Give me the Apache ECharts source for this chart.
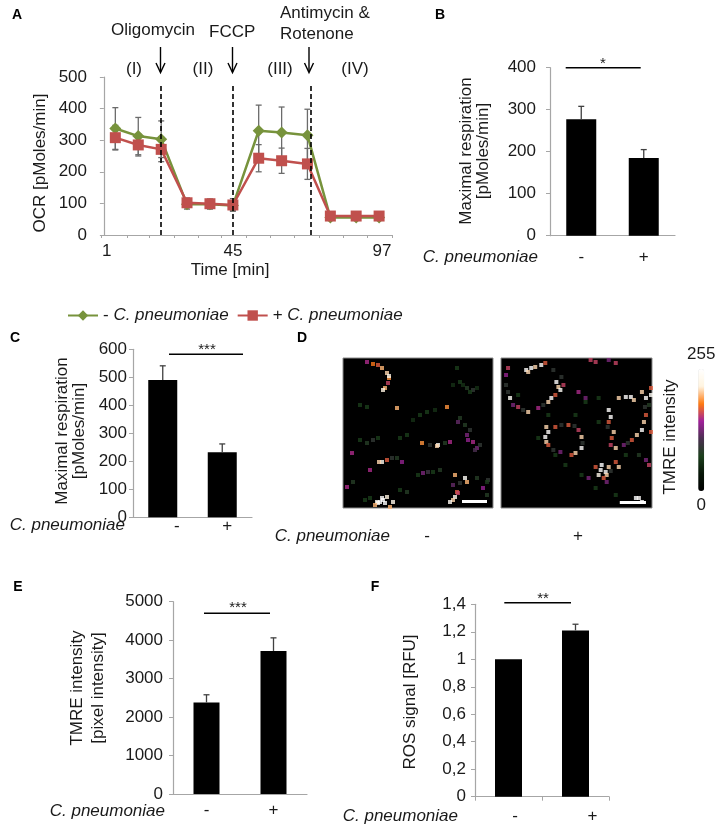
<!DOCTYPE html>
<html><head><meta charset="utf-8">
<script src="https://cdn.jsdelivr.net/npm/echarts@6/dist/echarts.min.js"></script>
<style>html,body{margin:0;padding:0;background:#fff}#c{width:723px;height:829px}</style>
</head><body><div id="c"></div>
<script>
// ---------- DATA ----------
// Panel A: Seahorse OCR time course
const timeMin        = [4, 12, 20, 29, 37, 45, 54, 62, 71, 79, 88, 96];
const ocrControl     = [337, 313, 303, 97, 97, 93, 330, 324, 316, 55, 55, 55];
const ocrControlErr  = [66, 59, 58, 15, 15, 15, 81, 81, 82, 8, 8, 8];
const ocrInfected    = [308, 285, 271, 102, 99, 95, 243, 235, 225, 60, 60, 60];
const ocrInfectedErr = [39, 35, 39, 15, 15, 20, 43, 40, 49, 5, 5, 5];
const injectionTimes = [20, 45, 72];
const timeTickLabels = [1, 45, 97];
const timeMinorTicks = [-1, 8, 16, 24.5, 33, 41, 49.5, 58, 66.5, 75, 83.5, 92, 100.5];
const seriesNames    = ['- C. pneumoniae', '+ C. pneumoniae'];
const phaseLabels    = ['(I)', '(II)', '(III)', '(IV)'];
// Bar panels
const groups      = ['-', '+'];
const maxRespB    = [277, 185];   const maxRespBErr = [31, 20];
const maxRespC    = [490, 232];   const maxRespCErr = [51, 30];
const tmreInt     = [2380, 3720]; const tmreIntErr  = [200, 340];
const rosSignal   = [1.0, 1.21];  const rosSignalErr = [0, 0.045];
const tmreCtrlSpots = [
 [27,7,150],[33,9,180],[42,13,200],[47,18,210],[49,23,190],[48,28,160],[45,33,200],[43,35,220],[38,10,170],[49,21,230],
 [57,53,200],[107,52,190],
 [117,13,70],[120,27,70],[127,33,80],[133,35,90],[120,63,80],[118,67,120],[127,80,130],[133,87,150],[137,93,130],[128,85,140],
 [113,30,60],[123,30,60],[130,37,70],[137,33,60],[125,70,80],[130,75,90],[135,95,110],[140,90,90],
 [98,90,245],[97,91,210],[82,88,190],[110,87,150],[90,90,90],[105,88,80],
 [27,88,80],[33,85,90],[12,98,150],[20,85,70],[38,83,70],
 [42,107,235],[39,107,210],[47,105,170],[62,107,140],[30,115,150],[52,103,90],[57,103,80],
 [40,147,255],[43,145,255],[38,148,250],[45,148,255],[42,143,250],[37,147,240],[53,147,230],[50,152,200],[47,142,220],[35,150,200],
 [83,118,130],[88,117,100],[78,120,70],
 [115,120,200],[125,123,245],[127,127,200],[117,137,170],[115,142,235],[113,145,210],[110,147,240],[118,138,160],[113,130,120],[120,128,90],
 [143,133,140],[7,132,150],[13,127,80],[148,125,90],
 [80,60,70],[87,57,70],[60,83,70],[67,80,70],[20,50,70],[27,52,70],[137,123,80],[147,127,70],[100,115,80],
 [93,117,70],[30,143,70],[25,145,70],[67,137,80],[60,135,70],[95,55,60],[73,65,60],[147,140,80]
];
const tmreInfSpots = [
 [10,13,160],[8,20,140],[28,15,250],[33,13,255],[37,12,210],[43,10,250],[47,8,170],[30,17,210],[58,27,250],
 [60,32,210],[62,35,245],[53,43,250],[50,47,210],[57,40,170],[65,30,160],[12,43,245],[20,52,160],[30,57,210],
 [40,53,150],[15,50,130],[8,30,90],[10,37,90],[25,55,90],[45,50,90],[63,22,90],[55,15,90],
 [92,5,160],[97,7,160],[110,5,130],[117,8,160],[80,37,150],[87,43,130],
 [110,55,250],[112,62,250],[110,67,170],[115,77,210],[113,83,170],[112,90,160],[117,93,210],[125,90,130],
 [133,85,170],[138,80,210],[143,75,250],[145,67,210],[147,60,170],[120,43,210],[127,42,250],[132,42,250],
 [135,45,210],[143,37,210],[147,43,250],[152,33,170],[150,50,80],[152,40,245],[109,72,90],[146,52,90],[129,88,90],
 [48,72,210],[50,77,250],[47,82,250],[48,87,210],[50,90,170],[57,72,170],[70,70,170],[80,75,160],[83,82,210],
 [83,93,250],[77,98,210],[73,100,170],[62,97,130],[63,70,90],[76,71,90],[55,95,90],[84,88,90],
 [103,110,255],[102,115,250],[107,117,250],[108,120,210],[105,123,170],[110,112,210],[117,107,170],[120,112,210],
 [108,127,130],[97,112,170],[90,123,130],[100,120,230],[112,116,90],
 [137,143,255],[140,143,250],[143,147,255],
 [152,77,170],[147,105,130],[150,110,160],
 [20,40,70],[50,60,70],[87,47,70],[100,43,70],[77,60,70],[100,67,70],[140,100,80],[97,133,70],[117,140,70],
 [83,120,70],[67,110,70],[127,100,70],[57,100,70],[40,83,70]
];
const intensityRange = [0, 255];

// ---------- STYLE ----------
const FONT = '"Liberation Sans", Arial, sans-serif';
const FS = 17;
const AXIS_GRAY = '#a6a6a6';
const TXT = '#1a1a1a';
const GREEN = '#77933C', RED = '#C0504D';

function yAx(gridIndex, max, interval, margin, fmt) {
  return {
    type: 'value', gridIndex, min: 0, max, interval,
    axisLine: {show: true, lineStyle: {color: AXIS_GRAY, width: 1.2}},
    axisTick: {show: true, length: 4, lineStyle: {color: AXIS_GRAY}},
    splitLine: {show: false},
    axisLabel: {color: TXT, fontSize: FS, fontFamily: FONT, margin, formatter: fmt || ((v) => String(v))}
  };
}
function xCat(gridIndex, margin, ticks, rich) {
  return {
    type: 'category', gridIndex, data: groups,
    axisLine: {show: true, lineStyle: {color: AXIS_GRAY, width: 1.2}},
    axisTick: {show: ticks, length: 4, lineStyle: {color: AXIS_GRAY}},
    axisLabel: rich ? {
      color: TXT, fontSize: FS, fontFamily: FONT, margin,
      formatter: (v) => (v === '-' ? '{a|-}' : '{b|+}'),
      rich: {
        a: {fontSize: FS, fontFamily: FONT, color: TXT, padding: [0, 0, 0, rich[0]]},
        b: {fontSize: FS, fontFamily: FONT, color: TXT, padding: [0, 0, 0, rich[1]]}
      }
    } : {color: TXT, fontSize: FS, fontFamily: FONT, margin}
  };
}
function errRender(both, color, cap) {
  return function (params, api) {
    const x = api.value(0), v = api.value(1), e = api.value(2);
    if (!e) return null;
    const top = api.coord([x, v + e]);
    const base = api.coord([x, both ? v - e : v]);
    const st = {stroke: color, lineWidth: 1.3};
    const ch = [
      {type: 'line', shape: {x1: top[0], y1: top[1], x2: base[0], y2: base[1]}, style: st},
      {type: 'line', shape: {x1: top[0] - cap, y1: top[1], x2: top[0] + cap, y2: top[1]}, style: st}
    ];
    if (both) ch.push({type: 'line', shape: {x1: base[0] - cap, y1: base[1], x2: base[0] + cap, y2: base[1]}, style: st});
    return {type: 'group', children: ch};
  };
}
function barSeries(xi, vals, errs, width) {
  return [
    {type: 'bar', xAxisIndex: xi, yAxisIndex: xi, data: vals, barWidth: width,
     itemStyle: {color: '#000'}, silent: true, z: 2},
    {type: 'custom', xAxisIndex: xi, yAxisIndex: xi, z: 3, silent: true,
     renderItem: errRender(false, '#404040', 3),
     data: groups.map((g, i) => [i, vals[i], errs[i]])}
  ];
}

const T = (text, x, y, o) => Object.assign({type: 'text', x, y, silent: true,
  style: Object.assign({text, fill: TXT, font: FS + 'px ' + FONT, align: 'center', verticalAlign: 'middle'}, (o && o.style) || {})},
  o ? {rotation: o.rotation || 0} : {});
const L = (x1, y1, x2, y2, w, c) => ({type: 'line', silent: true, shape: {x1, y1, x2, y2}, style: {stroke: c || '#000', lineWidth: w || 1.5}});
const letter = (t, x, y) => ({type: 'text', x, y, silent: true, style: {text: t, fill: '#000', font: 'bold 14px ' + FONT, align: 'center', verticalAlign: 'middle'}});
const italic = (x, y) => T('C. pneumoniae', x, y, {style: {align: 'right', font: 'italic ' + FS + 'px ' + FONT}});
const arrow = (x) => [L(x, 47, x, 72, 1.4), {type: 'polyline', silent: true, shape: {points: [[x - 4.5, 63], [x, 72.5], [x + 4.5, 63]]}, style: {stroke: '#000', lineWidth: 1.4, fill: null}}];
const vert = (t, x, y, lh) => ({type: 'text', x, y, rotation: Math.PI / 2, silent: true,
  style: {text: t, fill: TXT, font: FS + 'px ' + FONT, align: 'center', verticalAlign: 'middle', lineHeight: lh || 18}});

const graphics = [
  letter('A', 17, 15), letter('B', 440, 15), letter('C', 15, 338), letter('D', 302, 338), letter('E', 18, 587), letter('F', 375, 587),
  // Panel A annotations
  T('Oligomycin', 111, 30, {style: {align: 'left'}}),
  T('FCCP', 209, 32, {style: {align: 'left'}}),
  T('Antimycin &', 280, 13, {style: {align: 'left'}}),
  T('Rotenone', 280, 34, {style: {align: 'left'}}),
  T(phaseLabels[0], 134, 69), T(phaseLabels[1], 203, 69), T(phaseLabels[2], 280, 69), T(phaseLabels[3], 355, 69),
  ...arrow(160.5), ...arrow(232.5), ...arrow(309),
  vert('OCR [pMoles/min]', 40, 163),
  T('Time [min]', 230, 270),
  // Panel B
  vert('Maximal respiration\n[pMoles/min]', 475, 151, 17),
  L(565.7, 67.7, 640.7, 67.7), T('*', 603, 64, {style: {font: '15px ' + FONT}}),
  italic(538, 257),
  // Panel C
  vert('Maximal respiration\n[pMoles/min]', 70.5, 431, 17),
  L(169, 354.3, 243, 354.3), T('***', 207, 350, {style: {font: '15px ' + FONT}}),
  italic(125, 525),
  // Panel D
  vert('TMRE intensity', 670, 437),
  italic(390, 536), T('-', 427, 536), T('+', 578, 536),
  // Panel E
  vert('TMRE intensity\n[pixel intensity]', 88, 688, 21),
  L(204, 613.3, 270, 613.3), T('***', 238, 608, {style: {font: '15px ' + FONT}}),
  italic(165, 811),
  // Panel F
  vert('ROS signal [RFU]', 410, 702),
  L(504.3, 602.7, 571, 602.7), T('**', 543, 599, {style: {font: '15px ' + FONT}}),
  italic(458, 816)
];

const gridBase = {outerBoundsMode: 'none', containLabel: false};
const option = {
  animation: false,
  backgroundColor: '#fff',
  textStyle: {fontFamily: FONT},
  grid: [
    Object.assign({left: 101, top: 77, width: 291, height: 158}, gridBase),          // 0 A
    Object.assign({left: 550, top: 67.7, width: 125, height: 168}, gridBase),        // 1 B
    Object.assign({left: 133, top: 349.3, width: 119, height: 168}, gridBase),       // 2 C
    Object.assign({left: 173, top: 601.7, width: 134, height: 192.3}, gridBase),     // 3 E
    Object.assign({left: 475, top: 604.3, width: 134, height: 192.4}, gridBase),     // 4 F
    Object.assign({left: 343, top: 358, width: 150, height: 150, show: true, backgroundColor: '#000', borderColor: '#8a8a8a', borderWidth: 1}, gridBase), // 5 D-
    Object.assign({left: 501, top: 358, width: 151, height: 150, show: true, backgroundColor: '#000', borderColor: '#8a8a8a', borderWidth: 1}, gridBase)  // 6 D+
  ],
  xAxis: [
    {type: 'value', gridIndex: 0, min: -1, max: 100.5,
     axisLine: {show: true, lineStyle: {color: AXIS_GRAY, width: 1.2}},
     axisTick: {show: true, length: 3, customValues: timeMinorTicks, lineStyle: {color: AXIS_GRAY}},
     splitLine: {show: false},
     axisLabel: {customValues: timeTickLabels, color: TXT, fontSize: FS, fontFamily: FONT, margin: 8}},
    xCat(1, 13, false),
    xCat(2, 1, false, [28, 10]),
    xCat(3, 8, false),
    xCat(4, 11, true, [13, 34]),
    {type: 'value', gridIndex: 5, min: 3, max: 153, show: false},
    {type: 'value', gridIndex: 6, min: 3, max: 153, show: false}
  ],
  yAxis: [
    yAx(0, 500, 100, 14),
    yAx(1, 400, 100, 14),
    yAx(2, 600, 100, 6),
    yAx(3, 5000, 1000, 10),
    yAx(4, 1.4, 0.2, 9, (v) => String(Math.round(v * 10) / 10).replace('.', ',')),
    {type: 'value', gridIndex: 5, min: 3, max: 153, inverse: true, show: false},
    {type: 'value', gridIndex: 6, min: 3, max: 153, inverse: true, show: false}
  ],
  legend: {
    data: seriesNames, left: 62, top: 302, itemWidth: 30, itemHeight: 13, itemGap: 8,
    selectedMode: false,
    formatter: (name) => '{n|' + name.slice(0, 1) + ' }{i|' + name.slice(2) + '}',
    textStyle: {fontSize: FS, fontFamily: FONT, color: TXT,
      rich: {n: {fontSize: FS, fontFamily: FONT, color: TXT}, i: {fontSize: FS, fontFamily: FONT, color: TXT, fontStyle: 'italic'}}}
  },
  visualMap: {
    type: 'continuous', seriesIndex: [12, 13], dimension: 2,
    min: intensityRange[0], max: intensityRange[1], calculable: false, realtime: false,
    orient: 'vertical', left: 672, top: 331, itemWidth: 6, itemHeight: 122, textGap: 6,
    text: [String(intensityRange[1]), String(intensityRange[0])],
    textStyle: {fontSize: FS, fontFamily: FONT, color: TXT},
    inRange: {color: ['#000000', '#071507', '#1c401c', '#4a3050', '#a0209a', '#ff7a10', '#fff4e0', '#ffffff']},
    hoverLink: false
  },
  graphic: graphics,
  series: [
    // 0,1 error bars A
    {type: 'custom', xAxisIndex: 0, yAxisIndex: 0, z: 1, silent: true, renderItem: errRender(true, '#6b6b6b', 3),
     data: timeMin.map((t, i) => [t, ocrControl[i], ocrControlErr[i]])},
    {type: 'custom', xAxisIndex: 0, yAxisIndex: 0, z: 1, silent: true, renderItem: errRender(true, '#6b6b6b', 3),
     data: timeMin.map((t, i) => [t, ocrInfected[i], ocrInfectedErr[i]])},
    // 2,3 lines A
    {type: 'line', name: seriesNames[0], xAxisIndex: 0, yAxisIndex: 0, z: 3,
     data: timeMin.map((t, i) => [t, ocrControl[i]]), symbol: 'diamond', symbolSize: 12,
     lineStyle: {color: GREEN, width: 2.5}, itemStyle: {color: GREEN},
     markLine: {silent: true, symbol: 'none', label: {show: false},
       lineStyle: {type: [5, 3], color: '#000', width: 1.6},
       data: injectionTimes.map((t) => [{coord: [t, 0]}, {coord: [t, 475]}])}},
    {type: 'line', name: seriesNames[1], xAxisIndex: 0, yAxisIndex: 0, z: 4,
     data: timeMin.map((t, i) => [t, ocrInfected[i]]), symbol: 'rect', symbolSize: 11,
     lineStyle: {color: RED, width: 2.5}, itemStyle: {color: RED}},
    // 4-11 bar panels
    ...barSeries(1, maxRespB, maxRespBErr, 30),
    ...barSeries(2, maxRespC, maxRespCErr, 29),
    ...barSeries(3, tmreInt, tmreIntErr, 26),
    ...barSeries(4, rosSignal, rosSignalErr, 27),
    // 12,13 micrographs
    {type: 'scatter', xAxisIndex: 5, yAxisIndex: 5, data: tmreCtrlSpots, symbol: 'rect', symbolSize: 4, silent: true,
     markLine: {silent: true, symbol: 'none', label: {show: false}, lineStyle: {color: '#fff', width: 3, type: 'solid'},
       data: [[{coord: [122, 146]}, {coord: [147, 146]}]]}},
    {type: 'scatter', xAxisIndex: 6, yAxisIndex: 6, data: tmreInfSpots, symbol: 'rect', symbolSize: 4, silent: true,
     markLine: {silent: true, symbol: 'none', label: {show: false}, lineStyle: {color: '#fff', width: 3, type: 'solid'},
       data: [[{coord: [121, 147]}, {coord: [147, 147]}]]}}
  ]
};
const chart = echarts.init(document.getElementById('c'), null, {renderer: 'canvas'});
chart.setOption(option);
</script></body></html>
